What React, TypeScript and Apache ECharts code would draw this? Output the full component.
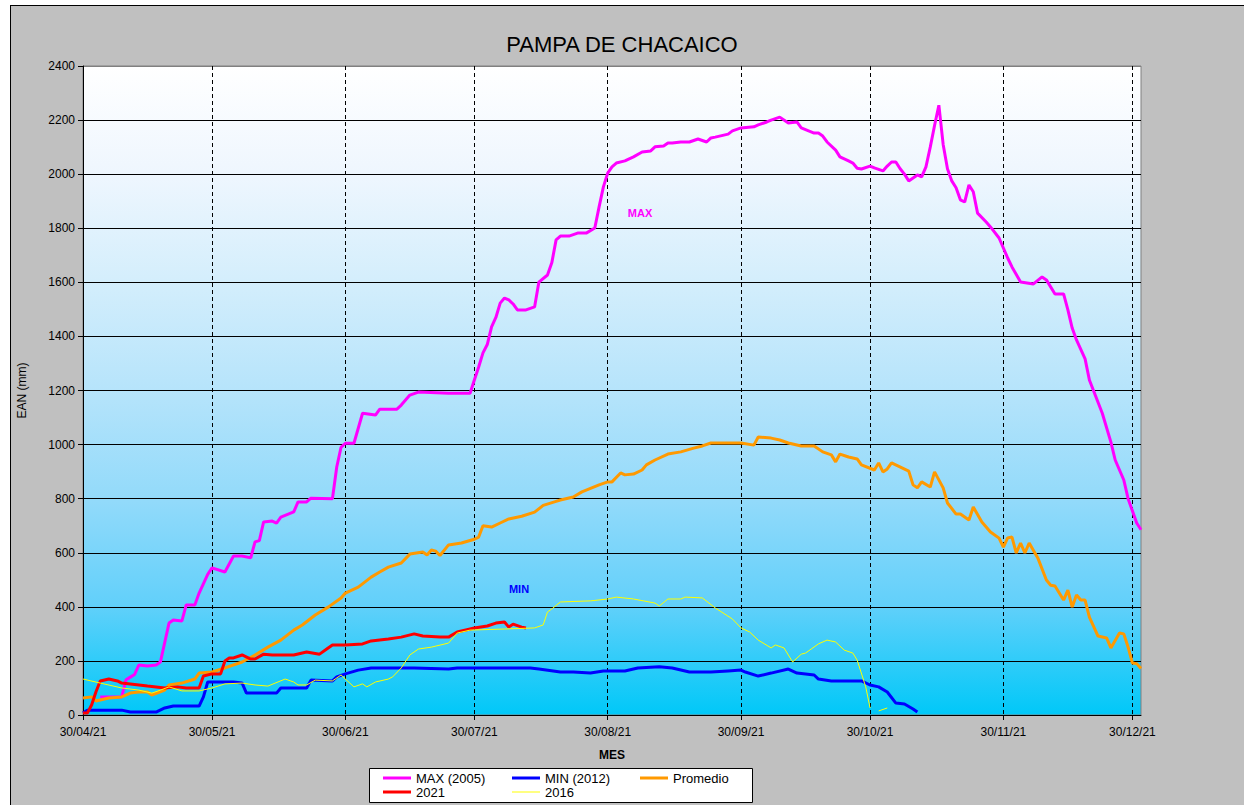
import React, { useEffect, useRef } from 'react';
import * as echarts from 'echarts';

const FONT = '"Liberation Sans", Arial, sans-serif';

// x categories: daily dates from 30/04/21 to 01/01/22
const START = Date.UTC(2021, 3, 30);
const N_DAYS = 247;
const pad = (n: number) => String(n).padStart(2, '0');
const dates: string[] = Array.from({ length: N_DAYS }, (_, i) => {
  const d = new Date(START + i * 86400000);
  return `${pad(d.getUTCDate())}/${pad(d.getUTCMonth() + 1)}/${String(d.getUTCFullYear()).slice(2)}`;
});

// [day index from 30/04/21, EAN mm]
const max2005: [number, number][] = [
  [4, 67], [9, 67], [10, 130], [11, 140], [12, 150], [13, 185], [15, 181], [17, 185], [18, 196], [20, 340],
  [21, 351], [23, 348], [24, 407], [26, 407], [27, 451], [29, 520], [30, 544], [33, 529], [35, 588], [37, 588],
  [39, 581], [40, 640], [41, 645], [42, 714], [44, 717], [45, 710], [46, 732], [49, 751], [50, 788], [52, 788],
  [53, 802], [58, 800], [59, 917], [60, 990], [61, 1005], [63, 1005], [65, 1116], [68, 1109], [69, 1131], [73, 1131],
  [74, 1146], [76, 1183], [78, 1194], [85, 1190], [90, 1190], [91, 1239], [92, 1287], [93, 1339], [94, 1370], [95, 1435],
  [96, 1470], [97, 1523], [98, 1542], [99, 1535], [100, 1520], [101, 1498], [103, 1498], [105, 1509], [106, 1601], [108, 1627],
  [109, 1672], [110, 1757], [111, 1771], [113, 1771], [115, 1782], [117, 1782], [119, 1801], [120, 1879], [121, 1953], [122, 2004],
  [123, 2027], [124, 2041], [126, 2049], [128, 2064], [130, 2082], [132, 2086], [133, 2101], [135, 2104], [136, 2115], [137, 2115],
  [139, 2119], [141, 2119], [143, 2130], [145, 2119], [146, 2134], [147, 2137], [150, 2148], [151, 2160], [153, 2171], [156, 2175],
  [157, 2182], [159, 2193], [160, 2200], [162, 2211], [164, 2189], [166, 2193], [167, 2171], [170, 2152], [171, 2152], [172, 2141],
  [173, 2119], [175, 2089], [176, 2064], [178, 2049], [179, 2041], [180, 2022], [181, 2019], [183, 2030], [184, 2023], [186, 2012],
  [187, 2030], [188, 2045], [189, 2045], [190, 2020], [191, 2000], [192, 1975], [194, 1997], [195, 1990], [196, 2027], [197, 2100],
  [198, 2180], [199, 2255], [200, 2110], [201, 2020], [202, 1975], [203, 1950], [204, 1905], [205, 1897], [206, 1960], [207, 1935],
  [208, 1856], [210, 1823], [211, 1805], [213, 1764], [214, 1727], [215, 1690], [216, 1657], [218, 1601], [221, 1594], [223, 1620],
  [224, 1609], [226, 1557], [228, 1557], [229, 1498], [230, 1431], [231, 1387], [233, 1317], [234, 1239], [237, 1116], [239, 1009],
  [240, 943], [242, 869], [243, 800], [245, 710], [246, 685],
];

const min2012: [number, number][] = [
  [0, 7], [1, 18], [9, 18], [11, 11], [17, 11], [19, 26], [21, 33], [27, 33], [28, 67], [29, 122],
  [35, 122], [37, 118], [38, 81], [45, 81], [46, 100], [52, 100], [53, 129], [58, 126], [59, 141], [61, 152],
  [64, 166], [67, 174], [77, 174], [85, 170], [87, 174], [104, 174], [106, 170], [111, 159], [114, 159], [118, 155],
  [121, 163], [126, 163], [129, 174], [134, 178], [137, 174], [141, 159], [146, 159], [150, 163], [153, 166], [154, 159],
  [157, 144], [160, 155], [164, 170], [166, 155], [170, 148], [171, 133], [174, 126], [181, 126], [183, 111], [185, 104],
  [187, 85], [189, 44], [191, 41], [193, 22], [194, 11],
];

const promedio: [number, number][] = [
  [0, 63], [2, 67], [3, 52], [6, 63], [9, 67], [11, 81], [13, 85], [15, 85], [16, 74], [19, 92],
  [20, 111], [23, 118], [26, 133], [27, 155], [30, 159], [33, 174], [37, 196], [40, 222], [43, 251], [46, 277],
  [49, 314], [51, 333], [54, 370], [57, 399], [60, 433], [61, 451], [64, 473], [67, 510], [69, 529], [71, 547],
  [74, 562], [76, 595], [79, 603], [80, 592], [81, 610], [82, 606], [83, 590], [85, 629], [88, 636], [91, 650],
  [92, 658], [93, 700], [95, 695], [97, 710], [99, 725], [102, 735], [105, 750], [107, 775], [110, 790], [111, 795],
  [114, 806], [116, 825], [120, 851], [122, 862], [123, 862], [125, 895], [126, 888], [128, 891], [130, 906], [131, 925],
  [133, 943], [136, 965], [139, 973], [142, 987], [144, 995], [146, 1006], [149, 1006], [153, 1006], [156, 998], [157, 1028],
  [160, 1024], [162, 1017], [164, 1006], [167, 995], [170, 995], [172, 973], [174, 962], [175, 936], [176, 965], [178, 954],
  [180, 947], [181, 925], [184, 906], [185, 932], [186, 899], [187, 910], [188, 932], [192, 902], [193, 851], [194, 840],
  [195, 862], [197, 843], [198, 899], [200, 840], [201, 784], [203, 743], [204, 743], [206, 721], [207, 769], [209, 714],
  [211, 677], [213, 654], [214, 621], [215, 655], [216, 658], [217, 599], [218, 636], [219, 599], [220, 636], [222, 581],
  [224, 499], [225, 480], [226, 477], [228, 425], [229, 462], [230, 399], [231, 444], [232, 425], [233, 425], [234, 362],
  [236, 292], [238, 285], [239, 248], [241, 303], [242, 300], [243, 251], [244, 192], [245, 190], [246, 172],
];

const y2021: [number, number][] = [
  [0, 7], [1, 7], [2, 37], [3, 85], [4, 126], [6, 133], [8, 126], [9, 118], [13, 111], [15, 107],
  [19, 100], [22, 104], [24, 100], [27, 100], [28, 144], [30, 152], [32, 152], [33, 200], [34, 211], [35, 211],
  [37, 222], [39, 207], [40, 207], [42, 225], [44, 222], [49, 222], [52, 233], [55, 225], [57, 248], [58, 259],
  [61, 259], [65, 263], [67, 274], [71, 281], [74, 288], [77, 300], [79, 292], [83, 288], [85, 288], [87, 307],
  [91, 322], [94, 329], [96, 340], [98, 344], [99, 325], [100, 336], [102, 325], [103, 322],
];

const y2016: [number, number | null][] = [
  [0, 133], [4, 118], [9, 100], [13, 92], [16, 81], [18, 92], [20, 104], [23, 89], [27, 89], [30, 100],
  [33, 115], [37, 118], [40, 111], [43, 107], [47, 133], [49, 122], [50, 111], [52, 111], [54, 129], [58, 126],
  [60, 148], [61, 133], [63, 104], [65, 115], [66, 104], [68, 122], [71, 133], [72, 141], [74, 174], [76, 222],
  [78, 244], [81, 251], [85, 266], [87, 303], [90, 314], [98, 318], [105, 322], [107, 333], [108, 381], [109, 392],
  [111, 418], [118, 422], [122, 429], [124, 436], [128, 429], [133, 414], [134, 403], [136, 429], [139, 429], [140, 436],
  [144, 433], [147, 396], [151, 355], [153, 322], [155, 307], [157, 277], [160, 248], [161, 259], [163, 248], [165, 196],
  [167, 225], [168, 229], [171, 263], [173, 277], [175, 270], [177, 240], [179, 229], [180, 203], [182, 104], [183, 26],
  [184, null], [185, 15], [187, 26],
];

const yTicks = { min: 0, max: 2400, interval: 200 };

const isMonthTick = (_i: number, v: string) => typeof v === 'string' && v.startsWith('30/');

const mkSeries = (name: string, pairs: [number, number | null][], color: string, width: number) => ({
  name,
  type: 'line',
  data: pairs.map(([d, v]) => [dates[d], v === null ? '-' : v]),
  symbol: 'none',
  showSymbol: false,
  connectNulls: false,
  color,
  itemStyle: { color },
  lineStyle: { color, width },
  emphasis: { disabled: true },
});

const legendItem = (name: string, left: number, top: number, h: number) => ({
  data: [name],
  left,
  top,
  padding: 0,
  icon: 'rect',
  itemWidth: 28,
  itemHeight: h,
  selectedMode: false,
  itemStyle: { borderWidth: 0 },
  textStyle: { fontSize: 13, color: '#000', fontFamily: FONT, lineHeight: 14 },
  z: 5,
});

export default function App() {
  const ref = useRef<HTMLDivElement>(null);
  useEffect(() => {
    if (!ref.current) return;
    const chart = echarts.init(ref.current, undefined, { renderer: 'svg' });
    const splitColors = Array.from({ length: 13 }, (_, i) => (i === 12 ? '#808080' : '#000000'));
    const option = {
      animation: false,
      backgroundColor: 'transparent',
      textStyle: { fontFamily: FONT },
      title: {
        text: 'PAMPA DE CHACAICO',
        left: 'center',
        top: 28,
        textStyle: { fontSize: 22, fontWeight: 'normal', color: '#000', fontFamily: FONT },
      },
      grid: {
        left: 83,
        top: 66,
        right: 103,
        bottom: 90,
        show: true,
        borderColor: '#808080',
        borderWidth: 1,
        backgroundColor: new echarts.graphic.LinearGradient(0, 0, 0, 1, [
          { offset: 0, color: '#FFFFFF' },
          { offset: 0.17, color: '#EEF6FE' },
          { offset: 0.33, color: '#D4EEFC' },
          { offset: 0.5, color: '#B6E4FB' },
          { offset: 0.67, color: '#92DAFA' },
          { offset: 0.83, color: '#62D0FA' },
          { offset: 1, color: '#00C8F8' },
        ]),
      },
      xAxis: {
        type: 'category',
        data: dates,
        boundaryGap: false,
        name: 'MES',
        nameLocation: 'middle',
        nameGap: 34,
        nameTextStyle: { fontWeight: 'bold', fontSize: 12, color: '#000', fontFamily: FONT },
        axisLine: { show: true, lineStyle: { color: '#000', width: 1 } },
        axisTick: { show: true, interval: isMonthTick, length: 5, lineStyle: { color: '#000' } },
        axisLabel: { interval: isMonthTick, color: '#000', fontSize: 12, margin: 11, fontFamily: FONT },
        splitLine: { show: true, interval: isMonthTick, lineStyle: { color: '#000', type: [4, 3], width: 1 } },
      },
      yAxis: {
        type: 'value',
        min: yTicks.min,
        max: yTicks.max,
        interval: yTicks.interval,
        name: 'EAN (mm)',
        nameLocation: 'middle',
        nameGap: 55,
        nameRotate: 90,
        nameTextStyle: { fontSize: 12, color: '#000', fontFamily: FONT },
        axisLine: { show: true, lineStyle: { color: '#000', width: 1 } },
        axisTick: { show: true, length: 5, lineStyle: { color: '#000' } },
        axisLabel: { color: '#000', fontSize: 12, margin: 8, fontFamily: FONT, formatter: (v: number) => String(v) },
        splitLine: { show: true, lineStyle: { color: splitColors, width: 1 } },
      },
      legend: [
        legendItem('MAX (2005)', 383, 771, 3),
        legendItem('MIN (2012)', 512, 771, 3),
        legendItem('Promedio', 640, 771, 3),
        legendItem('2021', 383, 785, 3),
        legendItem('2016', 512, 785, 1),
      ],
      graphic: [
        {
          type: 'rect',
          z: 1,
          shape: { x: 369.5, y: 768.5, width: 383, height: 34 },
          style: { fill: '#FFFFFF', stroke: '#000000', lineWidth: 1 },
          silent: true,
        },
        {
          type: 'text',
          z: 3,
          x: 640,
          y: 213,
          style: { text: 'MAX', fill: '#FF00FF', font: `bold 11px ${FONT}`, textAlign: 'center', textVerticalAlign: 'middle' },
          silent: true,
        },
        {
          type: 'text',
          z: 3,
          x: 519,
          y: 589,
          style: { text: 'MIN', fill: '#0000FF', font: `bold 11px ${FONT}`, textAlign: 'center', textVerticalAlign: 'middle' },
          silent: true,
        },
      ],
      series: [
        mkSeries('MAX (2005)', max2005, '#FF00FF', 3),
        mkSeries('MIN (2012)', min2012, '#0000FF', 3),
        mkSeries('Promedio', promedio, '#FF9900', 3),
        mkSeries('2021', y2021, '#FF0000', 3),
        mkSeries('2016', y2016, '#FFFF00', 1),
      ],
    };
    chart.setOption(option as any);
    return () => chart.dispose();
  }, []);
  return (
    <div style={{ position: 'fixed', left: 0, top: 0, width: 1244, height: 805, background: '#FFFFFF', overflow: 'hidden' }}>
      <div
        style={{
          position: 'absolute',
          left: 10,
          top: 5,
          width: 1260,
          height: 830,
          background: '#C0C0C0',
          border: '1px solid #000',
          boxSizing: 'border-box',
        }}
      />
      <div ref={ref} style={{ position: 'absolute', left: 0, top: 0, width: 1244, height: 805 }} />
    </div>
  );
}
